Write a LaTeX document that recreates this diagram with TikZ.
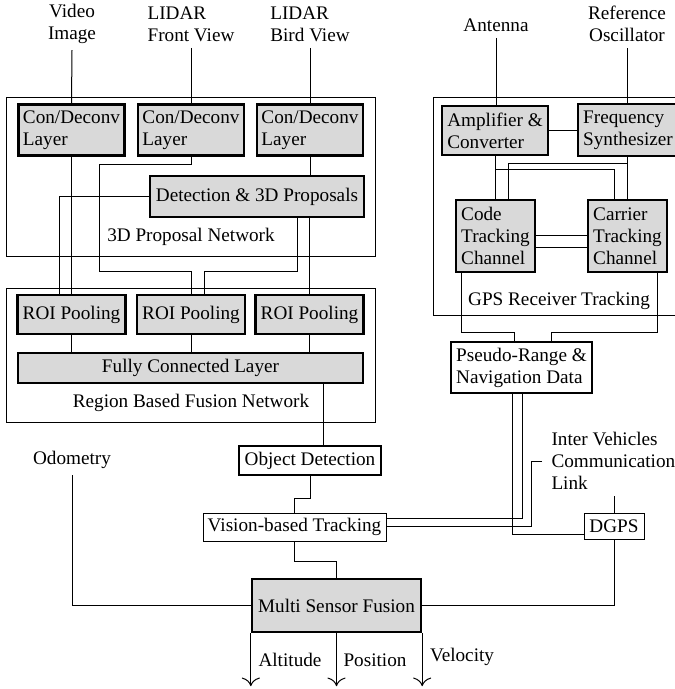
\documentclass[tikz,border=0pt]{standalone}
\usepackage{fontspec}
\setmainfont{Liberation Serif}
\usepackage{tikz}
\usetikzlibrary{arrows.meta}
\definecolor{blockgray}{HTML}{D9D9D9}

\begin{document}
\begin{tikzpicture}[x=0.5pt, y=-0.5pt, line width=0.5pt, font=\fontsize{9.6}{11}\selectfont,
  block/.style={draw, rectangle, line width=1.2pt, fill=blockgray, inner sep=2pt},
  plainblock/.style={draw, rectangle, line width=1.2pt, fill=white, inner sep=2pt},
  thinblock/.style={draw, rectangle, fill=white, inner sep=2pt},
  frame/.style={draw, rectangle},
  signal/.style={inner sep=3pt},
  output/.style={-{To[scale=1.6]}}]%
\useasboundingbox (0,0) rectangle (674,689);%
\node[signal, align=center] (vid) at (72,24) {Video\\Image};%
\node[signal, align=left] (lfv) at (191,24) {LIDAR\\Front View};%
\node[signal, align=left] (lbv) at (310,24) {LIDAR\\Bird View};%
\node[signal] (ant) at (496,25) {Antenna};%
\node[signal, align=center] (osc) at (627,24) {Reference\\Oscillator};%
\node[frame, minimum width=184.5pt, minimum height=79.5pt] (propnet) at (190.5,177.5) {};%
\node[frame, minimum width=184.5pt, minimum height=67pt] (fusnet) at (190.5,355) {};%
\node[frame, minimum width=123.5pt, minimum height=108.5pt] (gpsnet) at (556.5,206.5) {};%
\node (propname) at (191,237) {3D Proposal Network};%
\node (fusname) at (191,403) {Region Based Fusion Network};%
\node (gpsname) at (559,301) {GPS Receiver Tracking};%
\node[block, align=left, minimum width=53pt, minimum height=25.5pt] (conv1) at (71.5,130) {Con/Deconv\\Layer};%
\node[block, align=left, minimum width=53pt, minimum height=25.5pt] (conv2) at (191,130) {Con/Deconv\\Layer};%
\node[block, align=left, minimum width=53pt, minimum height=25.5pt] (conv3) at (310,130) {Con/Deconv\\Layer};%
\node[block, minimum width=107pt, minimum height=20.5pt] (det) at (257,196.5) {Detection \& 3D Proposals};%
\node[block, minimum width=54pt, minimum height=19.5pt] (roi1) at (71.5,314.5) {ROI Pooling};%
\node[block, minimum width=54pt, minimum height=19.5pt] (roi2) at (191,314.5) {ROI Pooling};%
\node[block, minimum width=54pt, minimum height=19.5pt] (roi3) at (309.5,314.5) {ROI Pooling};%
\node[block, minimum width=172.5pt, minimum height=15pt] (fc) at (190.5,368) {Fully Connected Layer};%
\node[plainblock, minimum width=71pt, minimum height=14.5pt] (od) at (310,460.5) {Object Detection};%
\node[thinblock, minimum width=91.5pt, minimum height=14pt] (vt) at (294.5,527) {Vision-based Tracking};%
\node[block, minimum width=84.5pt, minimum height=26.5pt] (msf) at (336.5,605.5) {Multi Sensor Fusion};%
\node[signal] (odo) at (72,460) {Odometry};%
\node[block, align=left, minimum width=53pt, minimum height=24.5pt] (ac) at (495,130.5) {Amplifier \&\\Converter};%
\node[block, align=left, minimum width=50pt, minimum height=26pt] (fs) at (628,130) {Frequency\\Synthesizer};%
\node[block, align=left, minimum width=39.5pt, minimum height=36pt] (code) at (495.5,236) {Code\\Tracking\\Channel};%
\node[block, align=left, minimum width=39.5pt, minimum height=36pt] (carr) at (627.5,236) {Carrier\\Tracking\\Channel};%
\node[plainblock, align=left, minimum width=70.5pt, minimum height=25.5pt] (pr) at (521.5,367.5) {Pseudo-Range \&\\Navigation Data};%
\node[thinblock, minimum width=30pt, minimum height=13pt] (dgps) at (614,526) {DGPS};%
\node[signal, anchor=west, inner xsep=4.5pt, align=left] (ivcl) at (542,461) {Inter Vehicles\\Communication\\Link};%
\node (alt) at (290,660) {Altitude};%
\node (pos) at (375,660) {Position};%
\node (vel) at (462,657) {Velocity};%
\draw (vid.south) -- (conv1.north);%
\draw (lfv.south) -- (conv2.north);%
\draw (lbv.south) -- (conv3.north);%
\draw (conv1.south) -- (roi1.north);%
\draw (conv2.south) |- (99,165) -- (99,272) -| (roi2.north);%
\draw (det.west) -| (roi1.north -| 59,0);%
\draw (conv3.south) -- (conv3.south |- det.north);%
\draw (det.south -| roi3.north) -- (roi3.north);%
\draw (det.south -| 297,0) |- (204,272) -- (roi2.north -| 204,0);%
\draw (roi1.south) -- (roi1.south |- fc.north);%
\draw (roi2.south) -- (roi2.south |- fc.north);%
\draw (roi3.south) -- (roi3.south |- fc.north);%
\draw (fc.south -| 323,0) -- (od.north -| 323,0);%
\draw (od.south) -- ++(0,22) -| (vt.north);%
\draw (vt.south) -- ++(0,20) -| (msf.north);%
\draw (odo.south) |- (msf.west);%
\draw (dgps.south) |- (msf.east);%
\draw (dgps.north) -- ++(0,-17);%
\draw (ant.south) -- (ant.south |- ac.north);%
\draw (osc.south) -- (osc.south |- fs.north);%
\draw (ac.east) -- (ac.east -| fs.west);%
\draw (ac.south) -- (ac.south |- code.north);%
\draw (ac.south) -- ++(0,13) -| (carr.north -| 614,0);%
\draw (fs.south -| carr.north) -- (carr.north);%
\draw (fs.south -| carr.north) -- ++(0,6) -| (code.north -| 508,0);%
\draw (code.east) -- (code.east -| carr.west);%
\draw (code.east |- 0,248) -- (carr.west |- 0,248);%
\draw (code.south -| 461,0) |- (514,332) -- (pr.north -| 514,0);%
\draw (carr.south -| 657,0) |- (551,332) -- (pr.north -| 551,0);%
\draw (pr.south -| 512,0) |- (dgps.west |- 0,534);%
\draw (pr.south -| 522,0) |- (vt.east |- 0,518);%
\draw (ivcl.west) -| (531,526) -- (vt.east |- 0,526);%
\draw[output] (msf.south west) -- ++(0,53);%
\draw[output] (msf.south) -- ++(0,53);%
\draw[output] (msf.south east) -- ++(0,53);%
\end{tikzpicture}
\end{document}
